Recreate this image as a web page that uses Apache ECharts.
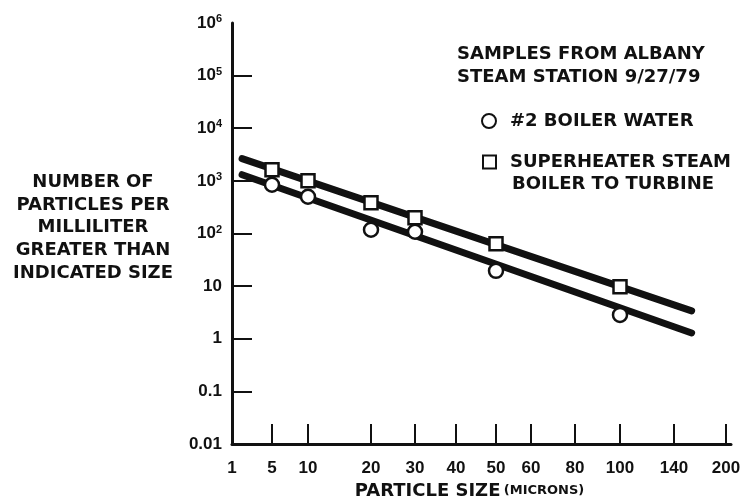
<!DOCTYPE html>
<html>
<head>
<meta charset="utf-8">
<title>Particle size distribution</title>
<script src="https://cdn.jsdelivr.net/npm/echarts@6/dist/echarts.min.js"></script>
<style>
  html, body { margin: 0; padding: 0; background: #fff; }
  #main { width: 749px; height: 499px; }
</style>
</head>
<body>
<div id="main"></div>
<script>
// measured points (particle size in microns, count per ml)
var sizes = [5, 10, 20, 30, 50, 100];
var boilerWater = [845, 499, 118, 108, 19.5, 2.84];
var superheaterSteam = [1630, 1007, 384, 199, 63.7, 9.7];

// fitted straight lines, two ends each
var fitSizes = [1.5, 158];
var boilerFit = [1310, 1.29];
var steamFit = [2640, 3.39];

// printed x scale: labels and their spacing along the axis
var xTickLabels = [1, 5, 10, 20, 30, 40, 50, 60, 80, 100, 140, 200];
var xTickStops = [0, 40, 76, 139, 183, 224, 264, 299, 343, 388, 442, 494];
var yTickValues = [0.01, 0.1, 1, 10, 100, 1000, 10000, 100000, 1000000];

var FONT = '"Liberation Sans", Arial, sans-serif';
var WIDE = '"DejaVu Sans", sans-serif';

// size (microns) -> position on the printed scale, log between printed ticks
function sizeToAxis(s) {
	for (var i = 0; i < xTickLabels.length - 1; i++) {
		var a = xTickLabels[i], b = xTickLabels[i + 1];
		if (s <= b || i == xTickLabels.length - 2) {
			var f = (Math.log(s) - Math.log(a)) / (Math.log(b) - Math.log(a));
			return xTickStops[i] + f * (xTickStops[i + 1] - xTickStops[i]);
		}
	}
}

function pairs(xs, ys) {
	var out = [];
	for (var i = 0; i < xs.length; i++) {
		out.push([sizeToAxis(xs[i]), ys[i]]);
	}
	return out;
}

function yLabel(v) {
	if (v >= 100) {
		var e = Math.round(Math.log(v) / Math.LN10);
		return '{b|10}{s|' + e + '}';
	}
	return '{b|' + (v < 1 ? v.toString() : Math.round(v)) + '}';
}

var legendText = { fontFamily: WIDE, fontWeight: 'bold', fontSize: 18, color: '#111', padding: [0, 0, 0, 9] };

var chart = echarts.init(document.getElementById('main'));

var option = {
	backgroundColor: '#fff',
	animation: false,
	textStyle: { fontFamily: FONT, color: '#111' },
	grid: { left: 232, right: 18, top: 23, bottom: 55, containLabel: false, outerBoundsMode: 'none' },
	legend: [
		{
			left: 481, top: 112, padding: 0,
			itemWidth: 14, itemHeight: 14,
			textStyle: legendText,
			data: ['#2 BOILER WATER']
		},
		{
			left: 482, top: 153, padding: 0,
			itemWidth: 13, itemHeight: 13,
			textStyle: legendText,
			formatter: function (name) { return name.split('\n')[0]; },
			data: ['SUPERHEATER STEAM\nBOILER TO TURBINE']
		}
	],
	graphic: [
		{
			type: 'text', left: 457, top: 43,
			style: {
				text: 'SAMPLES FROM ALBANY\nSTEAM STATION 9/27/79',
				font: 'bold 18px ' + WIDE, fill: '#111', lineHeight: 23
			}
		},
		{
			type: 'text', left: 512, top: 175,
			style: { text: 'BOILER TO TURBINE', font: 'bold 18px ' + WIDE, fill: '#111' }
		},
		{
			type: 'text', x: 93, y: 171,
			style: {
				text: 'NUMBER OF\nPARTICLES PER\nMILLILITER\nGREATER THAN\nINDICATED SIZE',
				font: 'bold 18px ' + WIDE, fill: '#111', lineHeight: 22.7, align: 'center'
			}
		}
	],
	xAxis: {
		type: 'value',
		min: 0,
		max: 499,
		splitLine: { show: false },
		axisLine: { show: true, lineStyle: { color: '#111', width: 3 } },
		axisTick: {
			show: true, inside: true, length: 20,
			customValues: xTickStops.slice(1),
			lineStyle: { color: '#111', width: 2 }
		},
		axisLabel: {
			customValues: xTickStops,
			margin: 16,
			fontFamily: FONT, fontWeight: 'bold', fontSize: 17, color: '#111',
			formatter: function (v) {
				var i = xTickStops.indexOf(v);
				return i >= 0 ? String(xTickLabels[i]) : '';
			}
		},
		name: '{b|PARTICLE SIZE} {s|(MICRONS)}',
		nameLocation: 'middle',
		nameGap: 38,
		nameTextStyle: {
			padding: [0, 24, 0, 0],
			rich: {
				b: { fontFamily: WIDE, fontWeight: 'bold', fontSize: 18, color: '#111' },
				s: { fontFamily: WIDE, fontWeight: 'bold', fontSize: 13, color: '#111' }
			}
		}
	},
	yAxis: {
		type: 'log',
		logBase: 10,
		min: 0.01,
		max: 1000000,
		splitLine: { show: false },
		axisLine: { show: true, lineStyle: { color: '#111', width: 3 } },
		axisTick: {
			show: true, inside: true, length: 20,
			customValues: yTickValues.slice(1, yTickValues.length - 1),
			lineStyle: { color: '#111', width: 2 }
		},
		axisLabel: {
			customValues: yTickValues,
			margin: 10,
			formatter: yLabel,
			rich: {
				b: { fontFamily: FONT, fontWeight: 'bold', fontSize: 17, color: '#111' },
				s: { fontFamily: FONT, fontWeight: 'bold', fontSize: 11, color: '#111', verticalAlign: 'top', padding: [0, 0, 8, 0] }
			}
		}
	},
	series: [
		{
			name: 'boilerFit', type: 'line', data: pairs(fitSizes, boilerFit),
			symbol: 'none', lineStyle: { color: '#111', width: 7, cap: 'round' }, z: 2, silent: true
		},
		{
			name: 'steamFit', type: 'line', data: pairs(fitSizes, steamFit),
			symbol: 'none', lineStyle: { color: '#111', width: 7, cap: 'round' }, z: 2, silent: true
		},
		{
			name: '#2 BOILER WATER', type: 'scatter', data: pairs(sizes, boilerWater),
			symbol: 'circle', symbolSize: 14,
			itemStyle: { color: '#fff', borderColor: '#111', borderWidth: 2.5, opacity: 1 }, z: 5
		},
		{
			name: 'SUPERHEATER STEAM\nBOILER TO TURBINE', type: 'scatter', data: pairs(sizes, superheaterSteam),
			symbol: 'rect', symbolSize: 13,
			itemStyle: { color: '#fff', borderColor: '#111', borderWidth: 2.5, opacity: 1 }, z: 5
		}
	]
};

chart.setOption(option);
</script>
</body>
</html>
